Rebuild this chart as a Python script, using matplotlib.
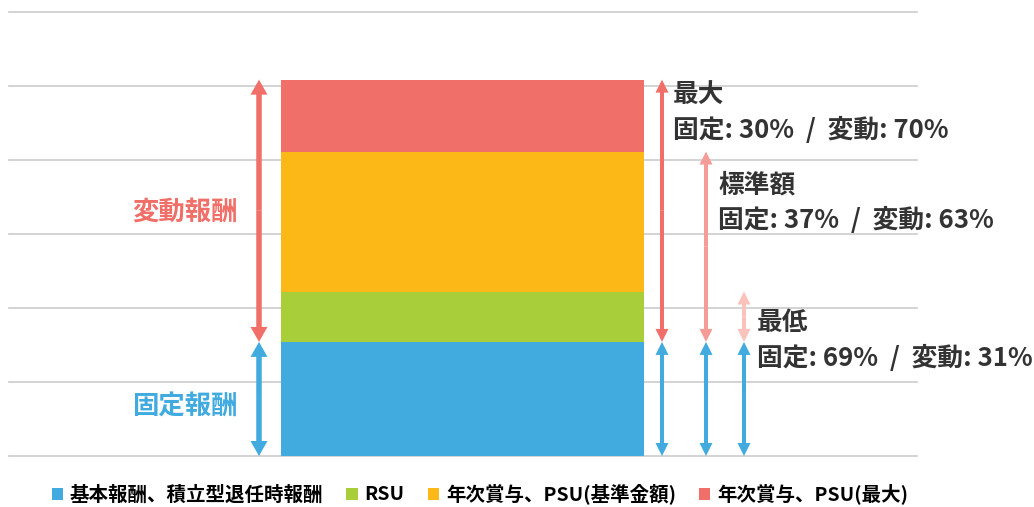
import matplotlib.pyplot as plt

plt.rcParams['font.family'] = ['Noto Sans CJK JP', 'DejaVu Sans']

# stacked components, in gridline units (one gridline step = 1)
series = ['基本報酬、積立型退任時報酬', 'RSU', '年次賞与、PSU(基準金額)', '年次賞与、PSU(最大)']
values = [1.54, 0.68, 1.89, 0.97]
colors = ['#41abe0', '#a8cf3a', '#fbb817', '#f07069']

# pay levels: how many stacked components each one covers, and the split text
levels = ['最大', '標準額', '最低']
level_parts = [4, 3, 2]
fixed_pct = [30, 37, 69]
variable_pct = [70, 63, 31]

W, H = 1034, 507
DARK = '#333333'


def fx(px):
    return px / W


def fy(py):
    return 1 - py / H


fig = plt.figure(figsize=(W / 100, H / 100), dpi=100)
ax = fig.add_axes([fx(9), fy(456), fx(917) - fx(9), fy(11.5) - fy(456)])
ax.set_xlim(9, 917)
ax.set_ylim(0, 6)
ax.axis('off')
py = 6 / (456 - 11.5)  # data units per pixel

for g in range(7):
    ax.axhline(g, color='#cccccc', lw=1.2, clip_on=False, zorder=0)

handles = []
bottom = 0
tops = []
for v, c, name in zip(values, colors, series):
    b = ax.bar(462.5, v, width=363, bottom=bottom, color=c, label=name, zorder=2)
    handles.append(b[0])
    bottom += v
    tops.append(bottom)
fixed_top = values[0]


def darrow(x, y0, y1, color, shaft, head_w, head_l):
    mid = (y0 + y1) / 2
    for end in (y0, y1):
        ax.arrow(x, mid, 0, end - mid, width=shaft, head_width=head_w,
                 head_length=head_l * py, length_includes_head=True,
                 color=color, lw=0, zorder=3)


# left arrows
darrow(259, fixed_top, tops[-1], '#f07069', 5.5, 17, 15)
darrow(259, 0, fixed_top, '#41abe0', 5.5, 17, 15)

# right arrows for each level
arrow_x = [662, 706, 744]
arrow_col = ['#f07069', '#f59c96', '#f9c2bb']
for x, n, c in zip(arrow_x, level_parts, arrow_col):
    darrow(x, fixed_top, tops[n - 1], c, 4, 13, 13)
    darrow(x, 0, fixed_top, '#41abe0', 4, 13, 13)

fig.text(fx(238), fy(212), '変動報酬', ha='right', va='center', fontsize=19,
         weight='bold', color='#f07069')
fig.text(fx(238), fy(407), '固定報酬', ha='right', va='center', fontsize=19,
         weight='bold', color='#41abe0')

label_x = [673, 718, 757]
label_y = [95, 185, 323]
for name, fp, vp, x, y in zip(levels, fixed_pct, variable_pct, label_x, label_y):
    fig.text(fx(x), fy(y), name, ha='left', va='center', fontsize=18.5,
             weight='bold', color=DARK)
    fig.text(fx(x), fy(y + 35), f'固定: {fp}%  /  変動: {vp}%', ha='left',
             va='center', fontsize=18.5, weight='bold', color=DARK)

fig.legend(handles, series, loc='center', bbox_to_anchor=(fx(480), fy(494)),
           ncol=4, frameon=False, handlelength=0.57,
           handleheight=0.57, handletextpad=0.36, columnspacing=1.2,
           prop={'weight': 'bold', 'size': 14})

fig.savefig('out.png', dpi=100)
